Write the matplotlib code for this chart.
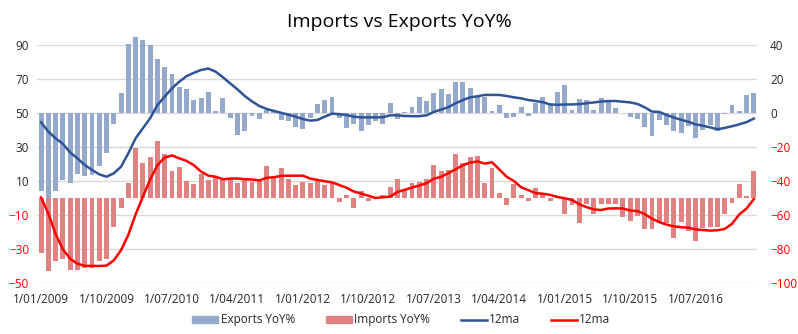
import numpy as np
import pandas as pd
from matplotlib import pyplot as plt
from matplotlib.patches import Patch
from matplotlib.lines import Line2D

plt.rcParams['font.family'] = ['Open Sans', 'DejaVu Sans']

# Monthly data, Jan 2009 .. Mar 2017
months = pd.date_range('2009-01-01', '2017-03-01', freq='MS')

exports = [-45.5, -49.6, -45.5, -39.2, -40.8, -35.7, -36.7, -36.1, -30.8, -23.1, -6.1, 12.0,
           40.8, 44.9, 43.1, 40.2, 32.0, 27.3, 23.1, 15.5, 14.3, 7.8, 9.0, 12.5,
           1.4, 9.0, -2.5, -12.5, -10.2, -1.4, -3.1, 2.0, 1.6, -3.7, -4.3, -7.8,
           -9.0, -2.5, 5.5, 7.8, 9.6, -2.5, -8.4, -6.1, -10.2, -6.7, -4.3, -6.1,
           6.1, -3.1, 0.8, 3.7, 9.6, 7.3, 12.0, 14.3, 11.4, 18.4, 18.4, 14.9,
           9.6, 9.6, 1.4, 4.9, -2.5, -2.0, 3.7, -1.4, 6.1, 9.6, 4.9, 12.5,
           16.7, 2.0, 8.4, 7.8, 2.0, 9.0, 7.3, 3.1, 0.2, -2.2, -3.2, -7.9,
           -13.1, -3.8, -6.8, -10.2, -11.4, -7.3, -14.3, -9.6, -7.0, -10.2, -0.7, 4.9,
           1.4, 10.8, 12.0]

imports = [-32.0, -42.5, -36.7, -35.5, -42.0, -42.0, -40.8, -40.8, -36.7, -35.5, -16.7, -5.5,
           9.2, 29.8, 21.0, 24.3, 33.7, 26.3, 16.1, 18.4, 10.4, 8.4, 14.3, 10.8,
           12.4, 10.8, 11.4, 9.2, 12.0, 9.8, 10.4, 19.0, 12.2, 17.8, 11.4, 7.8,
           9.8, 9.2, 10.8, 8.0, 9.8, -2.0, 2.0, -5.5, 4.3, -1.4, 0.5, 2.0,
           6.7, 11.4, 5.5, 9.0, 9.6, 11.4, 19.6, 16.1, 16.7, 26.0, 20.8, 24.3,
           24.9, 9.0, 17.8, 3.1, -3.7, 8.4, 2.0, -1.4, 6.1, 2.5, -1.4, 1.4,
           -9.0, -3.7, -14.3, -3.1, -9.0, -3.1, -3.1, -3.1, -10.8, -13.1, -10.2, -17.8,
           -17.8, -14.3, -14.3, -23.1, -13.7, -19.0, -24.9, -17.3, -16.7, -16.7, -9.0, -2.5,
           8.4, 1.4, 16.1]

exports_ma = [-5.3, -10.8, -14.7, -18.0, -23.0, -26.5, -30.4, -33.3, -35.9, -37.3, -35.3, -31.4,
              -23.5, -14.7, -8.8, -2.9, 4.9, 9.8, 14.7, 18.6, 21.8, 23.8, 25.5, 26.3,
              24.5, 21.2, 17.6, 14.1, 10.2, 7.0, 4.3, 2.6, 1.4, 0.3, -0.8, -2.0,
              -3.4, -4.3, -3.9, -2.0, -0.2, -0.5, -1.0, -2.0, -2.4, -2.4, -2.4, -2.3,
              -1.2, -1.2, -1.6, -1.7, -1.7, -1.2, 0.8, 2.2, 3.6, 5.9, 7.8, 9.4,
              10.0, 10.8, 10.8, 10.8, 10.2, 9.4, 8.8, 7.8, 7.2, 6.5, 5.2, 5.0,
              5.2, 5.2, 5.4, 5.9, 6.4, 6.9, 7.2, 7.2, 6.8, 6.4, 5.5, 3.5,
              1.0, 0.8, -1.0, -2.5, -3.8, -5.0, -6.5, -7.3, -8.3, -9.4, -8.6, -7.6,
              -6.5, -5.2, -3.1]

imports_ma = [0.5, -9.0, -21.0, -30.0, -35.5, -38.5, -39.7, -39.8, -39.8, -39.6, -36.5, -30.5,
              -21.5, -9.5, 1.0, 11.0, 19.5, 24.0, 25.2, 23.5, 22.0, 19.5, 15.7, 13.3,
              12.7, 11.2, 11.6, 11.6, 11.3, 11.0, 10.5, 12.0, 12.4, 13.2, 13.3, 13.3,
              13.3, 11.6, 10.8, 10.0, 9.4, 7.8, 6.2, 4.0, 2.8, 1.5, 0.2, 0.6,
              1.0, 3.7, 5.0, 6.3, 7.5, 8.9, 11.5, 12.6, 14.8, 17.0, 19.5, 21.0,
              21.7, 20.4, 21.2, 17.0, 12.7, 10.2, 6.5, 4.8, 3.0, 2.7, 2.0, 0.8,
              0.0, -1.0, -3.5, -5.2, -6.5, -6.9, -6.0, -5.9, -6.0, -7.2, -7.5, -9.3,
              -12.0, -14.0, -15.5, -16.5, -17.0, -17.3, -18.3, -18.7, -19.0, -18.8, -18.0, -15.0,
              -9.5, -6.0, -0.5]

x = np.arange(len(months))
tick_idx = np.arange(0, len(months), 9)
tick_labels = [f"1/{months[i].month:02d}/{months[i].year}" for i in tick_idx]

c_exp = '#95a9cd'
c_imp = '#e08182'
c_exp_ma = '#2f5496'
c_imp_ma = '#ff0000'
txt = '#262626'

fig = plt.figure(figsize=(7.98, 3.34), dpi=100)
ax = fig.add_axes([0.0469, 0.1518, 0.9023, 0.7126])
ax2 = ax.twinx()

ax.bar(x, imports, width=0.68, color=c_imp, zorder=2)
ax.plot(x, imports_ma, color=c_imp_ma, lw=1.8, zorder=3)
# export bars poke above the top gridline in the original, so no clipping
ax2.bar(x, exports, width=0.68, color=c_exp, zorder=2, clip_on=False)
ax2.plot(x, exports_ma, color=c_exp_ma, lw=1.8, zorder=3)

ax.set_xlim(-0.5, len(months) - 0.5)
ax.set_ylim(-50, 90)
ax2.set_ylim(-100, 40)
ax.set_yticks(np.arange(-50, 91, 20))
ax2.set_yticks(np.arange(-100, 41, 20))
ax.set_xticks(tick_idx)
ax.set_xticklabels(tick_labels)

ax.grid(axis='y', color='#d9d9d9', lw=1)
ax.set_axisbelow(True)
for a in (ax, ax2):
    for s in a.spines.values():
        s.set_visible(False)
ax.tick_params(axis='both', length=0, labelsize=8.5, colors=txt)
ax.tick_params(axis='y', pad=6)
ax.tick_params(axis='x', pad=7)
ax2.tick_params(axis='y', length=0, labelsize=8.5, pad=9)

for lab, v in zip(ax.get_yticklabels(), ax.get_yticks()):
    lab.set_color(c_imp_ma if v < 0 else txt)
for lab, v in zip(ax2.get_yticklabels(), ax2.get_yticks()):
    lab.set_color(c_imp_ma if v < 0 else txt)

fig.text(0.5, 0.935, 'Imports vs Exports YoY%', ha='center', va='center',
         fontsize=14, color='#000000')

handles = [Patch(color=c_exp), Patch(color=c_imp),
           Line2D([], [], color=c_exp_ma, lw=1.8), Line2D([], [], color=c_imp_ma, lw=1.8)]
labels = ['Exports YoY%', 'Imports YoY%', '12ma', '12ma']
fig.legend(handles, labels, loc='center', bbox_to_anchor=(0.503, 0.042), ncol=4,
           frameon=False, fontsize=8.5, handlelength=2.2, handleheight=0.6,
           handletextpad=0.2, columnspacing=2.6, labelcolor=txt)

fig.savefig('out.png', dpi=100)
